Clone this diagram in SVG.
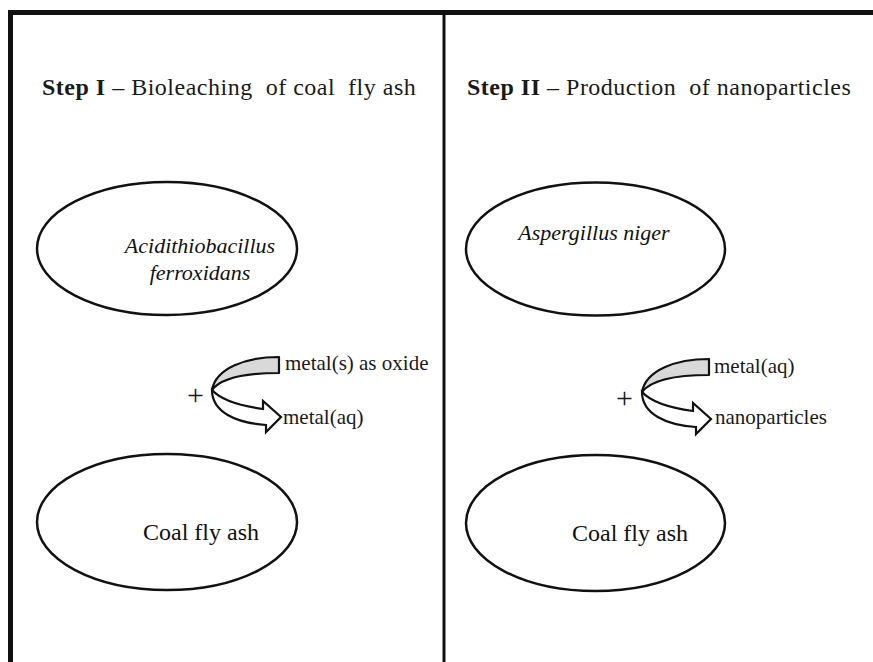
<svg xmlns="http://www.w3.org/2000/svg" width="873" height="662" viewBox="0 0 873 662">
  <style>
    .frame { stroke: #111; fill: none; }
    .node { fill: #fff; stroke: #111; stroke-width: 2.5; }
    .title { font-family: "Liberation Serif", "Times New Roman", serif; font-size: 24px; fill: #1a1a1a; letter-spacing: 0.5px; }
    .title .b { font-weight: bold; }
    .lbl { font-family: "Liberation Serif", "Times New Roman", serif; font-size: 24px; fill: #111; text-anchor: middle; }
    .it { font-style: italic; font-size: 22px; }
    .side { font-family: "Liberation Serif", "Times New Roman", serif; font-size: 21px; fill: #1a1a1a; }
    .plus { font-size: 30px; }
    .back { fill: #d9d9d9; stroke: #111; stroke-width: 2.2; stroke-linejoin: round; }
    .front { fill: #fff; stroke: #111; stroke-width: 2.2; stroke-linejoin: miter; }
  </style>

  <rect width="873" height="662" fill="#fff"/>

  <!-- panel frame -->
  <g id="frame">
    <line class="frame" x1="8" y1="12.5" x2="873" y2="12.5" stroke-width="5"/>
    <line class="frame" x1="10.5" y1="10" x2="10.5" y2="662" stroke-width="5"/>
    <line class="frame" x1="444" y1="12" x2="444" y2="662" stroke-width="3"/>
  </g>

  <!-- panel headings -->
  <g id="title-step1">
    <text class="title" x="42" y="95" xml:space="preserve"><tspan class="b">Step I</tspan> – Bioleaching  of coal  fly ash</text>
  </g>
  <g id="title-step2">
    <text class="title" x="467" y="95" xml:space="preserve"><tspan class="b">Step II</tspan> – Production  of nanoparticles</text>
  </g>

  <!-- Step I nodes -->
  <g id="node-acidithiobacillus">
    <ellipse class="node" cx="167" cy="248.5" rx="130" ry="66.5"/>
    <text class="lbl it" x="200" y="253">Acidithiobacillus</text>
    <text class="lbl it" x="200" y="280">ferroxidans</text>
  </g>
  <g id="node-flyash-1">
    <ellipse class="node" cx="167" cy="522" rx="130" ry="68"/>
    <text class="lbl" x="201" y="540">Coal fly ash</text>
  </g>

  <!-- Step II nodes -->
  <g id="node-aspergillus">
    <ellipse class="node" cx="595.5" cy="249" rx="129.5" ry="66.5"/>
    <text class="lbl it" x="594" y="240">Aspergillus niger</text>
  </g>
  <g id="node-flyash-2">
    <ellipse class="node" cx="595.5" cy="523" rx="129.5" ry="68"/>
    <text class="lbl" x="630" y="541">Coal fly ash</text>
  </g>

  <defs>
    <!-- curved band: grey back half, white front half ending in an arrowhead -->
    <g id="curl">
      <path class="back" d="M212,390 C216,368 246,357 279,357 L279,373 C250,373 222,377 212,390 Z"/>
      <path class="front" d="M212,390 C222,401 241,406 263,409 L263,401 L281,417 L266,432 L266,425 C236,423 212,412 212,390 Z"/>
    </g>
  </defs>

  <!-- transformation arrows -->
  <g id="connectors">
    <use href="#curl"/>
    <use href="#curl" transform="translate(430,2)"/>
  </g>

  <!-- reaction labels -->
  <g id="labels-step1" class="side">
    <text class="plus" x="187" y="405">+</text>
    <text x="285" y="370">metal(s) as oxide</text>
    <text x="283" y="424">metal(aq)</text>
  </g>
  <g id="labels-step2" class="side">
    <text class="plus" x="616" y="408">+</text>
    <text x="714" y="373">metal(aq)</text>
    <text x="715" y="424">nanoparticles</text>
  </g>
</svg>
